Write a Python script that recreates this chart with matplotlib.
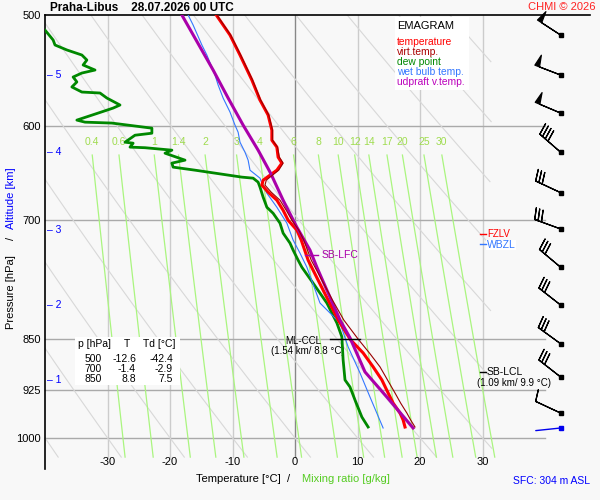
import numpy as np
import matplotlib
matplotlib.use("Agg")
import matplotlib.pyplot as plt

plt.rcParams['font.family'] = ['Liberation Sans', 'DejaVu Sans']

# ==== sounding data ====
t_p = [500, 516.7, 533.9, 556.2, 574.8, 589.1, 603.9, 613.9, 620.9, 631.2, 637.4,
       644.8, 650.1, 655.5, 660.8, 668.5, 677.3, 688.6, 699.9, 711.4, 723.1, 747.3,
       772.2, 797.8, 824.2, 851.6, 870.0, 890.1, 909.4, 929.0, 944.5, 960.1, 971.0, 982.3]
t_val = [-12.6, -10.4, -8.8, -6.9, -5.6, -4.3, -3.7, -3.7, -2.9, -2.7, -2.1,
         -2.9, -4.0, -5.1, -5.3, -4.3, -2.9, -1.9, -1.1, 0.3, 1.0, 2.1,
         3.7, 5.3, 6.9, 8.9, 10.9, 12.5, 13.9, 14.9, 15.7, 16.8, 17.3, 17.6]
tv_val = [-12.5, -10.3, -8.7, -6.8, -5.5, -4.2, -3.6, -3.6, -2.8, -2.5, -1.9,
          -2.6, -3.6, -4.6, -4.8, -3.8, -2.4, -1.4, -0.5, 0.6, 1.4, 2.6,
          4.3, 6.0, 7.8, 10.2, 11.9, 13.6, 14.8, 16.0, 16.9, 17.9, 18.5, 19.2]

td_p = [500, 512.5, 520.9, 525.2, 529.5, 533.9, 538.3, 542.7, 547.2, 549.9, 553.5,
        558.0, 562.6, 567.3, 568.2, 572.9, 579.5, 582.4, 587.2, 594.0, 596.0, 596.9,
        601.9, 606.9, 608.9, 615.9, 616.9, 620.9, 621.5, 624.0, 627.1, 634.3, 637.4,
        641.6, 644.8, 652.2, 653.3, 657.6, 663.0, 673.9, 685.2, 692.0, 703.3, 714.9,
        726.7, 735.1, 747.3, 756.0, 776.0, 801.7, 828.3, 847.4, 880.0, 909.4, 919.9,
        939.8, 966.4, 982.3]
td_val = [-42.4, -40.0, -38.7, -38.4, -36.5, -34.1, -33.3, -33.9, -32.0, -34.1, -35.5,
          -34.9, -35.7, -34.1, -31.2, -30.1, -28.0, -29.1, -31.5, -34.9, -33.6, -29.3,
          -22.9, -22.9, -25.6, -27.2, -25.9, -26.4, -24.0, -19.7, -20.8, -17.6, -19.7,
          -19.5, -16.0, -8.5, -6.7, -5.9, -5.6, -5.1, -4.5, -3.5, -2.4, -1.9,
          -0.8, -0.3, 0.5, 1.1, 2.9, 5.1, 6.7, 7.5, 7.7, 8.0, 8.8,
          9.6, 10.7, 11.7]

tw_p = [500, 508.3, 525.2, 533.9, 551.7, 560.8, 572.9, 586.2, 598.9, 605.9, 615.9,
        626.1, 634.3, 644.8, 653.3, 658.7, 669.6, 685.2, 703.3, 723.1, 738.7, 756.0,
        801.7, 828.3, 861.4, 899.0, 935.2, 983.9]
tw_val = [-17.1, -16.3, -14.9, -14.1, -12.8, -12.3, -11.5, -10.4, -9.6, -9.1, -8.8,
          -8.0, -7.5, -7.2, -5.6, -5.3, -4.5, -2.9, -1.3, -0.3, 0.8, 1.9,
          4.0, 7.2, 8.5, 10.4, 12.0, 14.1]

par_p = [500, 547.2, 572.9, 598.9, 624.0, 648.0, 677.3, 708.0, 735.1, 756.0, 784.9,
         824.2, 848.8, 897.5, 935.2, 983.9]
par_val = [-18.1, -13.1, -10.7, -8.3, -5.9, -3.9, -1.9, 0.3, 2.4, 3.5, 5.1,
           7.2, 8.8, 11.2, 14.7, 18.9]

# wind barbs (direction from, speed kt)
wind_p = [516.7, 551.7, 587.2, 626.1, 669.0, 710.0, 756.0, 804.3, 857.0, 905.0, 960.1]
wind_dir = [303, 291, 293, 311, 295, 290, 310, 308, 306, 308, 295]
wind_spd = [50, 50, 50, 40, 30, 30, 30, 30, 30, 30, 10]
sfc_p, sfc_dir, sfc_spd = 983.9, 264, 3

# table
tab_p = ["500", "700", "850"]
tab_t = ["-12.6", "-1.4", "8.8"]
tab_td = ["-42.4", "-2.9", "7.5"]

mix_ratios = [0.4, 0.6, 1, 1.4, 2, 3, 4, 6, 8, 10, 12, 14, 17, 20, 25, 30]
mix_labels = ["0.4", "0.6", "1", "1.4", "2", "3", "4", "6", "8", "10", "12", "14", "17", "20", "25", "30"]
isobars = [600, 700, 850, 925, 1000]
isotherms = [-30, -20, -10, 0, 10, 20, 30]
p_ticks = [500, 600, 700, 850, 925, 1000]
alt_km = [1, 2, 3, 4, 5]
alt_p = [909.4, 804.3, 711.4, 626.1, 551.7]

legend_items = [("temperature", "#ff0000"), ("virt.temp.", "#aa0000"),
                ("dew point", "#008800"), ("wet bulb temp.", "#3377ff"),
                ("udpraft v.temp.", "#bb00bb")]

BG = "#f8f8f8"
W, H = 600, 500

def fx(x):
    return x / W

def fy(y):
    return 1 - y / H

fig = plt.figure(figsize=(6, 5), dpi=100, facecolor=BG)
ax = fig.add_axes([fx(45), fy(469), fx(590) - fx(45), fy(15) - fy(469)])
ax.set_facecolor("none")
ax.set_yscale("log")
ax.set_xlim(-40, 47.2)
ax.set_ylim(1052.3, 500)
for s in ["right", "bottom"]:
    ax.spines[s].set_visible(False)
ax.spines["left"].set_linewidth(1.2)
ax.spines["top"].set_linewidth(1.2)
ax.set_xticks([])
ax.set_yticks(p_ticks)
ax.set_yticklabels([str(p) for p in p_ticks], fontsize=8)
ax.yaxis.set_minor_locator(matplotlib.ticker.NullLocator())
ax.tick_params(axis="y", length=0, pad=3)

p_bot = 1032
pp = np.geomspace(500, p_bot, 200)

# isotherms / isobars
for t in isotherms:
    ax.plot([t, t], [500, p_bot], color="#888888" if t == 0 else "#cccccc", lw=1.0, zorder=1)
for p in isobars:
    ax.plot([-40, 40], [p, p], color="#aaaaaa", lw=1.0, zorder=1, clip_on=False)

# dry adiabats
for th in range(-40, 110, 10):
    tt = (th + 273.15) * (pp / 1000.0) ** 0.2857 - 273.15
    tt = np.ma.masked_where(tt > 31.5, tt)
    ax.plot(tt, pp, color="#d8d8d8", lw=0.8, zorder=1)

# mixing ratio lines
pm = np.geomspace(629, p_bot, 50)
for w, lab in zip(mix_ratios, mix_labels):
    e = w * pm / (622.0 + w)
    l = np.log(e / 6.112)
    tm = 243.5 * l / (17.67 - l)
    ax.plot(tm, pm, color="#aaf57f", lw=0.9, zorder=1)
    ax.text(tm[0], 615.9, lab, color="#9fdc4f", fontsize=7.5, ha="center", va="center")

# curves
ax.plot(td_val, td_p, color="#008800", lw=2.0, zorder=5)
ax.plot(tw_val, tw_p, color="#3377ff", lw=0.8, zorder=5)
ax.plot(t_val, t_p, color="#ff0000", lw=2.2, zorder=6)
ax.plot(tv_val, t_p, color="#990000", lw=0.8, zorder=7)
ax.plot(par_val, par_p, color="#aa00aa", lw=2.2, zorder=6)

# x tick labels (inside frame)
for t in isotherms:
    ax.text(t, 1040, str(t), fontsize=8, ha="center", va="center")

# altitude ticks
for km, p in zip(alt_km, alt_p):
    ax.text(-39.7, p, "\u2013 " + str(km), color="#0000ff", fontsize=7.5, ha="left", va="center")

# wind barbs
wd = np.radians(wind_dir)
u = -np.array(wind_spd) * np.sin(wd)
v = -np.array(wind_spd) * np.cos(wd)
xb = np.full(len(wind_p), 42.5)
ax.barbs(xb, wind_p, u, v, length=6.3, lw=0.9, color="black", clip_on=False, zorder=8,
         sizes=dict(spacing=0.13, height=0.42, width=0.18))
ax.plot(xb, wind_p, "s", color="black", ms=2.3, clip_on=False, zorder=9)
ax.annotate("", xy=(42.5, sfc_p), xytext=(18 * np.sin(np.radians(sfc_dir)), 18 * np.cos(np.radians(sfc_dir))),
            textcoords="offset points", arrowprops=dict(arrowstyle="-", color="#0000ee", lw=1.0,
                                                        shrinkA=0, shrinkB=0),
            annotation_clip=False)
ax.plot([42.5], [sfc_p], "s", color="#0000ee", ms=2.3, clip_on=False, zorder=9)

# level labels
ax.plot([1.6, 3.7], [741, 741], color="#aa00aa", lw=1.0, zorder=8)
ax.text(4.3, 741, "SB-LFC", color="#aa00aa", fontsize=7.5, va="center", ha="left")
ax.plot([5.6, 10.4], [850, 850], color="black", lw=1.0, zorder=8)
ax.text(1.3, 853, "ML-CCL", fontsize=7, va="center", ha="center")
ax.text(2.0, 867, "(1.54 km/ 8.8 \u00b0C)", fontsize=7, va="center", ha="center")
ax.plot([29.6, 30.6], [897.5, 897.5], color="black", lw=1.0, zorder=8)
ax.text(30.7, 897.5, "SB-LCL", fontsize=7.5, va="center", ha="left")
ax.text(29.1, 914, "(1.09 km/ 9.9 \u00b0C)", fontsize=7, va="center", ha="left")
ax.plot([29.6, 30.6], [716, 716], color="#ff0000", lw=1.0, zorder=8)
ax.text(30.7, 716, "FZLV", color="#ff0000", fontsize=7, va="center", ha="left")
ax.plot([29.6, 30.6], [728, 728], color="#3377ff", lw=1.0, zorder=8)
ax.text(30.7, 729, "WBZL", color="#3377ff", fontsize=7.5, va="center", ha="left",
        bbox=dict(facecolor="white", edgecolor="none", pad=0.3))

# legend box
fig.patches.append(plt.Rectangle((fx(395), fy(90)), fx(74), (90 - 17) / H, transform=fig.transFigure,
                                 facecolor="white", edgecolor="none", zorder=3))
fig.text(fx(397), fy(26), "EMAGRAM", fontsize=8, va="center", zorder=4)
for i, (name, col) in enumerate(legend_items):
    fig.text(fx(397), fy(42 + 10 * i), name, color=col, fontsize=7.4, va="center", zorder=4)

# table
fig.patches.append(plt.Rectangle((fx(75), fy(385)), fx(105), (385 - 337) / H, transform=fig.transFigure,
                                 facecolor="white", edgecolor="none", zorder=3))
fig.text(fx(78), fy(344), "p [hPa]", fontsize=7.5, va="center", zorder=4)
fig.text(fx(127), fy(344), "T", fontsize=7.5, va="center", ha="center", zorder=4)
fig.text(fx(143), fy(344), "Td [\u00b0C]", fontsize=7.5, va="center", zorder=4)
for i in range(3):
    yy = fy(359 + 10 * i)
    fig.text(fx(102), yy, tab_p[i], fontsize=7.5, va="center", ha="right", zorder=4)
    fig.text(fx(136), yy, tab_t[i], fontsize=7.5, va="center", ha="right", zorder=4)
    fig.text(fx(173), yy, tab_td[i], fontsize=7.5, va="center", ha="right", zorder=4)

# titles and axis labels
fig.text(fx(50), fy(8), "Praha-Libus    28.07.2026 00 UTC", fontsize=8.5, fontweight="bold", va="center")
fig.text(fx(596), fy(7), "CHMI \u00a9 2026", fontsize=8, color="#ff2222", va="center", ha="right")
fig.text(fx(290), fy(479), "Temperature [\u00b0C]  /", fontsize=8, va="center", ha="right")
fig.text(fx(302), fy(479), "Mixing ratio [g/kg]", fontsize=8, color="#55cc22", va="center", ha="left")
fig.text(fx(590), fy(481), "SFC: 304 m ASL", fontsize=7.5, color="#0000ff", va="center", ha="right")
fig.text(fx(11), fy(292), "Pressure [hPa]", fontsize=8, rotation=90, va="center", ha="center")
fig.text(fx(11), fy(238), "/", fontsize=8, rotation=90, va="center", ha="center")
fig.text(fx(11), fy(198), "Altitude [km]", fontsize=8, color="#0000ff", rotation=90, va="center", ha="center")

fig.savefig("out.png", dpi=100, facecolor=BG)
